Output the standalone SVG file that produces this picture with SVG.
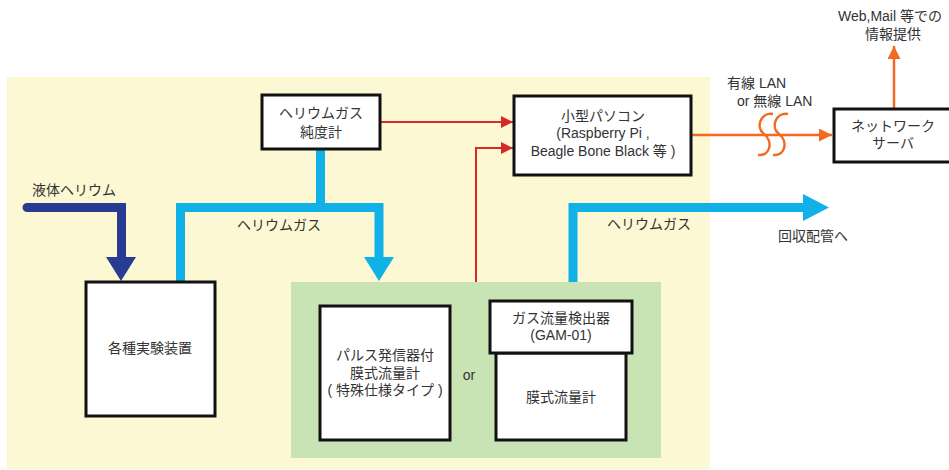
<svg xmlns="http://www.w3.org/2000/svg" width="949" height="470" viewBox="0 0 949 470">
<defs>
<style>
.t{font-family:"Liberation Sans","Noto Sans CJK JP",sans-serif;font-size:14px;fill:#333;text-anchor:middle}
.tl{text-anchor:start}
.box{fill:#fff;stroke:#111;stroke-width:3}
.red{fill:none;stroke:#d42a2a;stroke-width:2}
.org{fill:none;stroke:#f26a22;stroke-width:2.5}
.cyan{fill:none;stroke:#10b1e6;stroke-width:9}
.navy{fill:none;stroke:#283c94;stroke-width:9}
</style>
<marker id="ar" viewBox="0 0 12 12" refX="12" refY="6" markerWidth="12" markerHeight="12" markerUnits="userSpaceOnUse" orient="auto"><path d="M0,0 L12,6 L0,12 Z" fill="#d42a2a"/></marker>
<marker id="ao" viewBox="0 0 12 12" refX="12" refY="6" markerWidth="13" markerHeight="13" markerUnits="userSpaceOnUse" orient="auto"><path d="M0,0 L12,6 L0,12 Z" fill="#f26a22"/></marker>
</defs>
<rect x="7" y="77" width="703" height="392" fill="#fcf8d4"/>
<rect x="291" y="282" width="370" height="176" fill="#c8e4b4"/>
<g id="connectors">
<path class="navy" d="M27,207.5 H121.5 V258" stroke-linecap="round"/>
<path d="M106,257 L136,257 L121,281 Z" fill="#283c94"/>
<path class="cyan" d="M320.5,150 V207.5"/>
<path class="cyan" d="M180.5,282 V207.5 H379 V258"/>
<path d="M364,257 L394,257 L379,281 Z" fill="#10b1e6"/>
<path class="cyan" d="M573,282 V207.5 H804"/>
<path d="M803,194 L829,207.5 L803,221 Z" fill="#10b1e6"/>
<path class="red" d="M380,122 H513" marker-end="url(#ar)"/>
<path class="red" d="M476,282 V148 H513" marker-end="url(#ar)"/>
<path class="org" d="M691,135 H832" marker-end="url(#ao)"/>
<path class="org" d="M894,108 V46" marker-end="url(#ao)"/>
<path class="org" d="M773,114 C761,112 755,127 764,134 C773,141 771,156 758,155"/>
<path class="org" d="M788,114 C776,112 770,127 779,134 C788,141 786,156 773,155"/>
</g>
<g id="purity"><rect class="box" x="262" y="95" width="118" height="54"/>
<text class="t" x="321" y="118">ヘリウムガス</text><text class="t" x="321" y="137">純度計</text></g>
<g id="pc"><rect class="box" x="514" y="96" width="177" height="79"/>
<text class="t" x="603" y="121">小型パソコン</text><text class="t" x="603" y="138">(Raspberry Pi ,</text><text class="t" x="603" y="156">Beagle Bone Black 等 )</text></g>
<g id="server"><rect class="box" x="834" y="109" width="120" height="53"/>
<text class="t" x="893" y="131">ネットワーク</text><text class="t" x="893" y="148">サーバ</text></g>
<g id="experiment"><rect class="box" x="86" y="282" width="129" height="134"/>
<text class="t" x="150" y="353">各種実験装置</text></g>
<g id="pulse"><rect class="box" x="320" y="306" width="130" height="134"/>
<text class="t" x="385" y="360">パルス発信器付</text><text class="t" x="385" y="378">膜式流量計</text><text class="t" x="385" y="395">( 特殊仕様タイプ )</text></g>
<text class="t" x="469" y="380">or</text>
<g id="membrane"><rect class="box" x="496" y="353" width="130" height="87"/>
<text class="t" x="561" y="402">膜式流量計</text></g>
<g id="gam"><rect class="box" x="490" y="301" width="142" height="52"/>
<text class="t" x="561" y="323">ガス流量検出器</text><text class="t" x="561" y="340">(GAM-01)</text></g>
<text class="t tl" x="32" y="195">液体ヘリウム</text>
<text class="t tl" x="237" y="230">ヘリウムガス</text>
<text class="t tl" x="607" y="229">ヘリウムガス</text>
<text class="t tl" x="778" y="241">回収配管へ</text>
<text class="t tl" x="727" y="88">有線 LAN</text>
<text class="t tl" x="737" y="106">or 無線 LAN</text>
<text class="t tl" x="838" y="21">Web,Mail 等での</text>
<text class="t" x="893" y="39">情報提供</text>
</svg>
